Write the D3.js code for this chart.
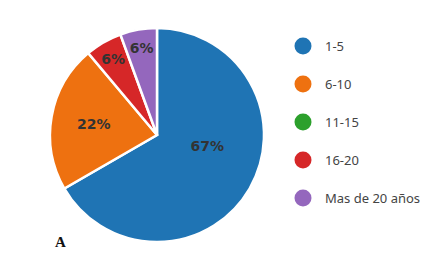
<html>
<head>
<meta charset="utf-8">
<style>
  body { margin: 0; background: white; }
  .lbl { font-family: "DejaVu Sans"; font-weight: bold; font-size: 14px; fill: #333; }
  .leg { font-family: "Noto Sans"; font-size: 13px; fill: #444; }
</style>
</head>
<body>
<svg id="container" width="432" height="273"></svg>
<script src="https://cdn.jsdelivr.net/npm/d3@7"></script>
<script>
  let categories = ["1-5", "6-10", "11-15", "16-20", "Mas de 20 años"]
  let counts = [12, 4, 0, 1, 1]
  let colors = ["#1f74b4", "#ee7110", "#2ca02c", "#d62728", "#9467bd"]
  let panelLabel = "A"

  let svg = d3.select("#container")
  let radius = 107
  let pieBody = svg.append("g").attr("transform", "translate(157, 135)")

  let data = categories.map((c, i) => ({ name: c, value: counts[i], color: colors[i] }))
  let total = d3.sum(counts)

  let pie = d3.pie().sort(null).value(d => d.value)
  let arc = d3.arc().innerRadius(0).outerRadius(radius)
  let arcs = pie(data)

  pieBody.selectAll("path")
    .data(arcs.filter(d => d.data.value > 0))
    .join("path")
    .attr("d", arc)
    .attr("fill", d => d.data.color)
    .attr("stroke", "white")
    .attr("stroke-width", 2.5)

  // big slices get labels nearer the centre, small ones out near the rim
  let labelArc = d => {
    let share = d.data.value / total
    let r = share > 0.5 ? radius * 0.5 : share > 0.15 ? radius * 0.6 : radius * 0.82
    return d3.arc().innerRadius(r).outerRadius(r).centroid(d)
  }

  pieBody.selectAll("text")
    .data(arcs.filter(d => d.data.value > 0))
    .join("text")
    .attr("class", "lbl")
    .attr("text-anchor", "middle")
    .attr("dy", "0.35em")
    .attr("transform", d => {
      let c = labelArc(d)
      if (d.data.value / total > 0.5) { c[0] += 4; c[1] -= 16 }
      return `translate(${c[0]}, ${c[1]})`
    })
    .text(d => Math.round(d.data.value / total * 100) + "%")

  // legend
  let legY = d3.scalePoint().domain(categories).range([46, 198])
  let legend = svg.append("g")
  legend.selectAll("circle")
    .data(data)
    .join("circle")
    .attr("cx", 303)
    .attr("cy", d => legY(d.name))
    .attr("r", 8.5)
    .attr("fill", d => d.color)
  legend.selectAll("text")
    .data(data)
    .join("text")
    .attr("class", "leg")
    .attr("x", 325)
    .attr("y", d => legY(d.name))
    .attr("dy", "0.35em")
    .text(d => d.name)

  svg.append("text")
    .attr("x", 55)
    .attr("y", 247)
    .attr("font-family", "Liberation Serif")
    .attr("font-weight", "bold")
    .attr("font-size", 15)
    .attr("fill", "#111")
    .text(panelLabel)
</script>
</body>
</html>
